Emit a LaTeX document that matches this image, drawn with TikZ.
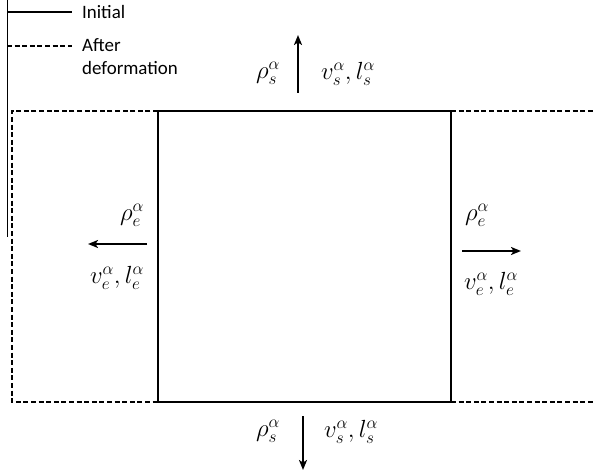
\documentclass[tikz,border=0pt]{standalone}
\usepackage{fontspec}
\newfontfamily\legendfont{Carlito}
\usetikzlibrary{arrows.meta, positioning}

\begin{document}
\begin{tikzpicture}[
  x=1bp, y=-1bp,
  >={Stealth[length=10bp, width=8bp, inset=2.5bp]},
  wall/.style={line width=2bp},
  deformed/.style={line width=2bp, dash pattern=on 5bp off 2.6bp},
  flux/.style={line width=2bp, ->},
  qty/.style={font=\fontsize{27}{32}\selectfont, inner sep=0pt},
  legtext/.style={font=\legendfont\fontsize{19}{23}\selectfont, anchor=west, inner sep=0pt, align=left},
]

% Page frame
\useasboundingbox (0,0) rectangle (595,474);

% Legend
\draw[line width=1bp] (7,0) -- (7,237);
\coordinate (iniA) at (7,12);
\coordinate (iniB) at (72,12);
\coordinate (defA) at (7,46);
\coordinate (defB) at (72,46);
\draw[wall] (iniA) -- (iniB);
\draw[deformed] (defA) -- (defB);
\node[legtext] (ini) at (82,12) {Initial};
\node[legtext] (def) at (82,57) {After\\deformation};

% Initial volume
\coordinate (sw) at (158,402);
\coordinate (ne) at (451,111);
\draw[wall] (sw) rectangle (ne);

% Deformed volume (stretched left and right)
\draw[deformed] (158,111) -- (12,111) -- (12,402) -- (158,402);
\draw[deformed] (451,111) -- (595,111);
\draw[deformed] (451,402) -- (595,402);

% Top face
\coordinate (topA) at (298,93);
\coordinate (topB) at (298,35);
\draw[flux] (topA) -- (topB);
\node[qty] (rhoT) at (268,73) {$\rho_s^{\alpha}$};
\node[qty] (vlT) at (348,74) {$v_s^{\alpha},l_s^{\alpha}$};

% Bottom face
\coordinate (botA) at (303,416);
\coordinate (botB) at (303,470);
\node[qty] (rhoB) at (268,431) {$\rho_s^{\alpha}$};
\node[qty] (vlB) at (351,432) {$v_s^{\alpha},l_s^{\alpha}$};
\draw[flux] (botA) -- (botB);

% Left face
\coordinate (lftA) at (147,244);
\coordinate (lftB) at (88,244);
\draw[flux] (lftA) -- (lftB);
\node[qty] (rhoL) at (132,215) {$\rho_e^{\alpha}$};
\node[qty] (vlL) at (117,278) {$v_e^{\alpha},l_e^{\alpha}$};

% Right face
\coordinate (rgtA) at (462,251);
\coordinate (rgtB) at (521,251);
\draw[flux] (rgtA) -- (rgtB);
\node[qty] (rhoR) at (477,215) {$\rho_e^{\alpha}$};
\node[qty] (vlR) at (491,284) {$v_e^{\alpha},l_e^{\alpha}$};

\end{tikzpicture}
\end{document}
